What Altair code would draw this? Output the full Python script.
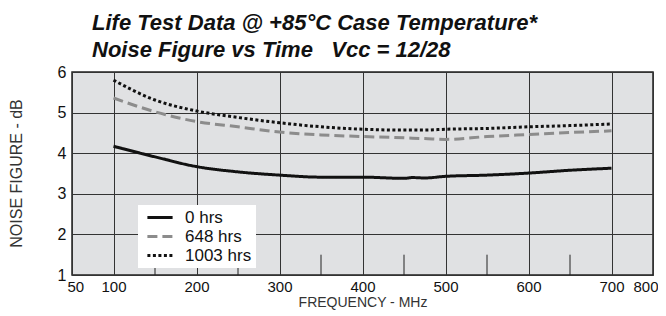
import altair as alt
import pandas as pd

# Frequency (MHz) sample points
freq = [100, 150, 200, 250, 300, 350, 400, 450, 460, 475, 500, 550, 600, 650, 700]
nf_0 = [4.17, 3.91, 3.67, 3.54, 3.46, 3.41, 3.41, 3.38, 3.40, 3.39, 3.43, 3.46, 3.51, 3.58, 3.63]
nf_648 = [5.36, 5.02, 4.78, 4.65, 4.52, 4.45, 4.41, 4.38, 4.37, 4.36, 4.34, 4.41, 4.46, 4.51, 4.55]
nf_1003 = [5.80, 5.31, 5.04, 4.88, 4.75, 4.65, 4.59, 4.57, 4.57, 4.57, 4.59, 4.61, 4.65, 4.68, 4.72]

series_names = ["0 hrs", "648 hrs", "1003 hrs"]
series_colors = ["#111111", "#8c8c8c", "#111111"]
series_dash = [[1, 0], [10, 5], [3, 2.5]]

x_ticks = [50, 100, 200, 300, 400, 500, 600, 700, 750]
y_ticks = [1, 2, 3, 4, 5, 6]
minor_ticks = [150, 250, 350, 450, 550, 650]

rows = []
for name, vals in zip(series_names, [nf_0, nf_648, nf_1003]):
    for f, v in zip(freq, vals):
        rows.append({"freq": f, "nf": v, "series": name})
df = pd.DataFrame(rows)
minor_df = pd.DataFrame({"freq": minor_ticks, "y0": [1] * len(minor_ticks), "y1": [1.5] * len(minor_ticks)})

font = "Liberation Sans"

x_scale = alt.Scale(domain=[50, 750], nice=False, zero=False)
y_scale = alt.Scale(domain=[1, 6], nice=False, zero=False)

lines = alt.Chart(df).mark_line(strokeWidth=3, interpolate="monotone").encode(
    x=alt.X("freq:Q", scale=x_scale,
            axis=alt.Axis(values=x_ticks, title="FREQUENCY - MHz",
                          labelExpr="datum.value == 750 ? '800' : datum.label",
                          grid=True, gridColor="#333333", gridWidth=1, gridOpacity=1,
                          ticks=False, domain=False, labelPadding=4,
                          labelFont=font, labelFontSize=15, labelColor="#111111",
                          titleFont=font, titleFontSize=14, titleFontWeight="normal",
                          titleColor="#333333", titleBaseline="alphabetic", titleY=31,
                          labelFlush=True, labelFlushOffset=5)),
    y=alt.Y("nf:Q", scale=y_scale,
            axis=alt.Axis(values=y_ticks, title="NOISE FIGURE - dB",
                          grid=True, gridColor="#333333", gridWidth=1, gridOpacity=1,
                          ticks=False, domain=False, labelPadding=6,
                          labelFont=font, labelFontSize=16, labelColor="#111111",
                          labelFlush=False,
                          titleFont=font, titleFontSize=16, titleFontWeight="normal",
                          titleColor="#333333", titleBaseline="alphabetic",
                          titleX=-51, titleY=101)),
    color=alt.Color("series:N", scale=alt.Scale(domain=series_names, range=series_colors),
                    legend=alt.Legend(title=None, orient="none", legendX=66, legendY=133,
                                      fillColor="white", padding=4,
                                      symbolType="M-2.1,0H2.1",
                                      symbolSize=144, symbolStrokeWidth=3,
                                      symbolOffset=9.5,
                                      labelFont=font, labelFontSize=17, labelColor="#111111",
                                      labelExpr="datum.label + '\u00a0\u00a0'",
                                      rowPadding=1, labelOffset=16.5)),
    strokeDash=alt.StrokeDash("series:N", scale=alt.Scale(domain=series_names, range=series_dash),
                              legend=alt.Legend(title=None, orient="none", legendX=66, legendY=133)),
)

minor = alt.Chart(minor_df).mark_rule(color="#222222", strokeWidth=1).encode(
    x=alt.X("freq:Q", scale=x_scale),
    y=alt.Y("y0:Q", scale=y_scale),
    y2="y1:Q",
)

chart = alt.layer(minor, lines).properties(
    width=581,
    height=203,
    autosize=alt.AutoSizeParams(type="none"),
    padding={"left": 64, "top": 64, "right": 5, "bottom": 40},
    title=alt.TitleParams(
        text=["Life Test Data @ +85°C Case Temperature*",
              "Noise Figure vs Time\u00a0\u00a0\u00a0Vcc = 12/28"],
        anchor="start", frame="group", font=font, fontSize=22, fontStyle="italic",
        fontWeight="bold", color="#111111", dx=20, offset=2, lineHeight=27,
    ),
).configure_view(
    fill="#e0e1e3", stroke="#222222", strokeWidth=1.5
)

chart.save("out.html", embed_options={"renderer": "svg", "actions": False})
